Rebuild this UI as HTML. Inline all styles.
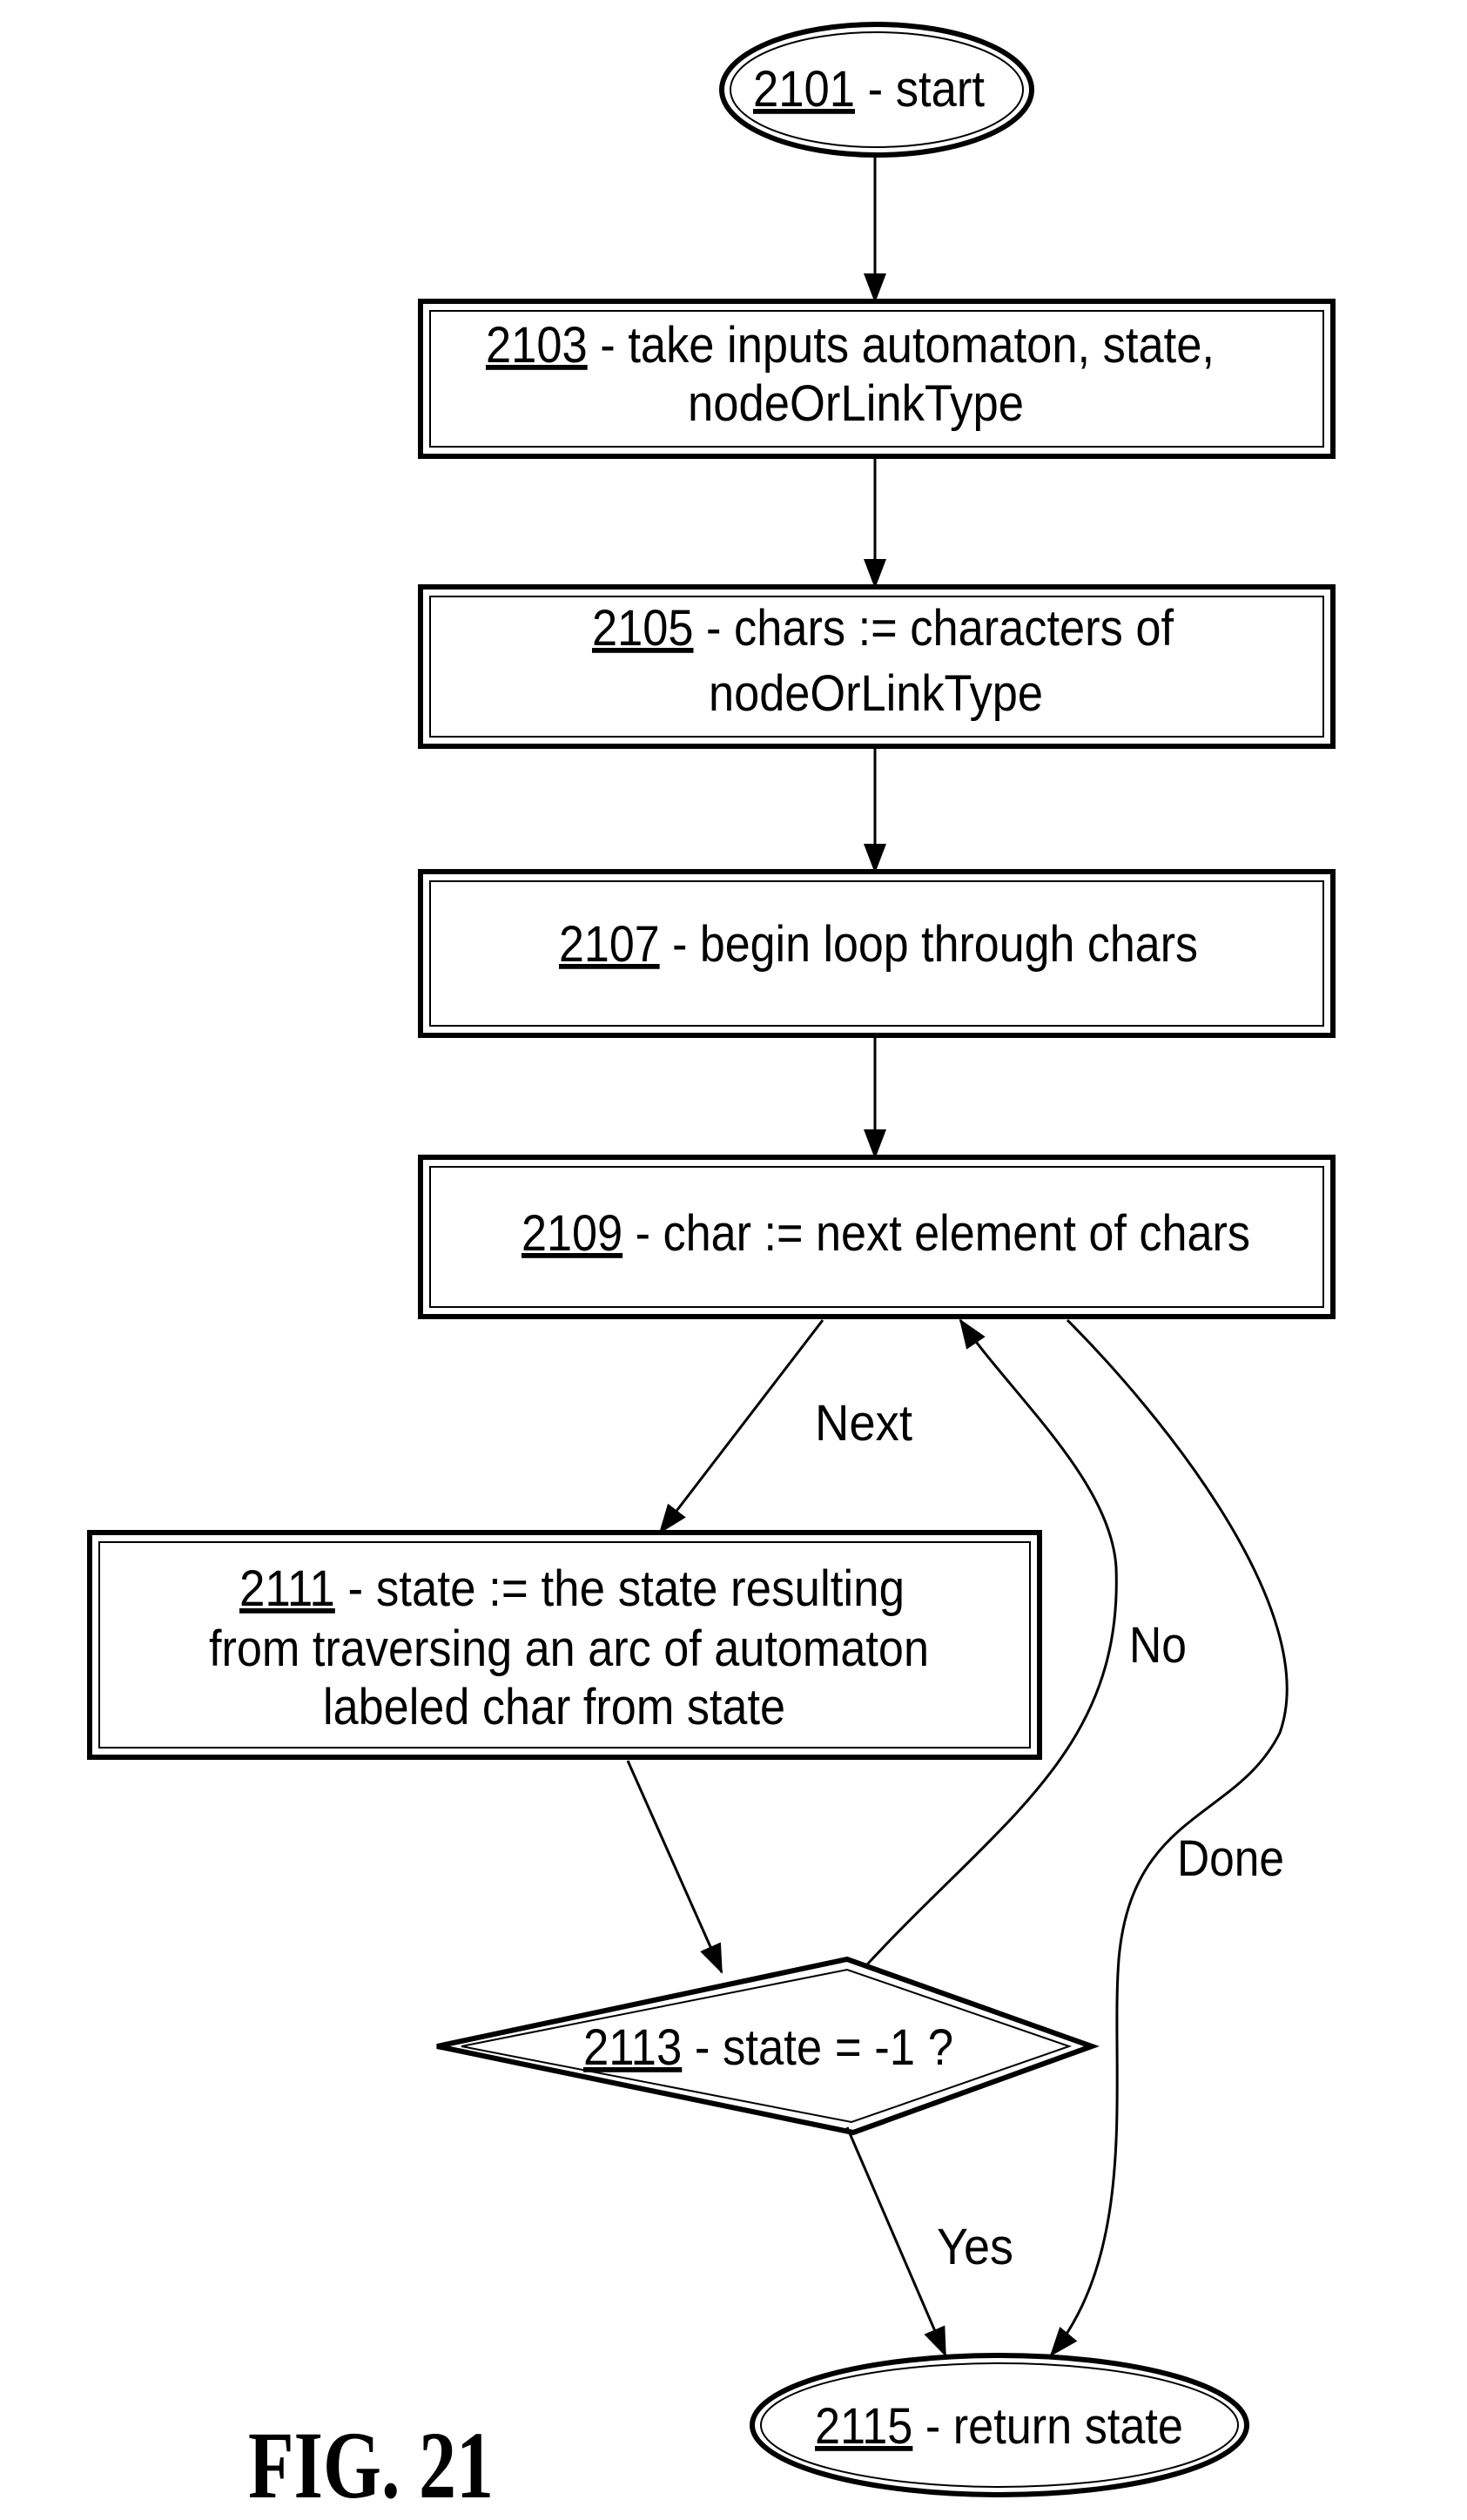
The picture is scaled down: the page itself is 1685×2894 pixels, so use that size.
<!DOCTYPE html>
<html><head><meta charset="utf-8"><style>
html,body{margin:0;padding:0;background:#fff}
svg{display:block}
text{font-family:"Liberation Sans",Arial,sans-serif;font-size:58px;fill:#000}
</style></head><body>
<svg width="1685" height="2894" viewBox="0 0 1685 2894" xmlns="http://www.w3.org/2000/svg">
<defs>
<marker id="ar2" markerWidth="34" markerHeight="34" refX="32" refY="17" orient="auto" markerUnits="userSpaceOnUse">
<path d="M0,4 L34,17 L0,30 z" fill="#000"/>
</marker>
</defs>
<g fill="none" stroke="#000">
<ellipse cx="1007" cy="103" rx="178" ry="75" stroke-width="6"/>
<ellipse cx="1007" cy="103" rx="168" ry="66" stroke-width="2"/>
<rect x="483" y="346" width="1048" height="178" stroke-width="6"/>
<rect x="494" y="357" width="1026" height="156" stroke-width="2"/>
<rect x="483" y="674" width="1048" height="183" stroke-width="6"/>
<rect x="494" y="685" width="1026" height="161" stroke-width="2"/>
<rect x="483" y="1001" width="1048" height="188" stroke-width="6"/>
<rect x="494" y="1012" width="1026" height="166" stroke-width="2"/>
<rect x="483" y="1329" width="1048" height="183" stroke-width="6"/>
<rect x="494" y="1340" width="1026" height="161" stroke-width="2"/>
<rect x="103" y="1760" width="1091" height="258" stroke-width="6"/>
<rect x="114" y="1771" width="1069" height="236" stroke-width="2"/>
<path d="M502,2350 L973,2250 L1254,2350 L980,2449 Z" stroke-width="6"/>
<path d="M530,2350 L973,2262 L1228,2350 L978,2437 Z" stroke-width="2"/>
<ellipse cx="1148" cy="2785" rx="284" ry="80" stroke-width="6"/>
<ellipse cx="1148" cy="2785" rx="274" ry="71" stroke-width="2"/>
<g stroke-width="3">
<line x1="1005" y1="178" x2="1005" y2="346" marker-end="url(#ar2)"/>
<line x1="1005" y1="524" x2="1005" y2="674" marker-end="url(#ar2)"/>
<line x1="1005" y1="857" x2="1005" y2="1001" marker-end="url(#ar2)"/>
<line x1="1005" y1="1189" x2="1005" y2="1329" marker-end="url(#ar2)"/>
<line x1="945" y1="1516" x2="758" y2="1760" marker-end="url(#ar2)"/>
<line x1="721" y1="2022" x2="829" y2="2265" marker-end="url(#ar2)"/>
<line x1="973" y1="2443" x2="1086" y2="2705" marker-end="url(#ar2)"/>
<path d="M996,2256 C1150,2090 1290,2010 1282,1800 C1276,1700 1160,1600 1103,1516" marker-end="url(#ar2)"/>
<path d="M1226,1516 C1330,1620 1520,1850 1470,1990 C1420,2090 1300,2080 1285,2250 C1275,2380 1310,2580 1207,2705" marker-end="url(#ar2)"/>
</g>
</g>
<text x="865" y="122" textLength="266" lengthAdjust="spacingAndGlyphs"><tspan text-decoration="underline">2101</tspan> - start</text>
<text x="558" y="416" textLength="837" lengthAdjust="spacingAndGlyphs"><tspan text-decoration="underline">2103</tspan> - take inputs automaton, state,</text>
<text x="790" y="483" textLength="386" lengthAdjust="spacingAndGlyphs">nodeOrLinkType</text>
<text x="680" y="741" textLength="668" lengthAdjust="spacingAndGlyphs"><tspan text-decoration="underline">2105</tspan> - chars := characters of</text>
<text x="814" y="816" textLength="384" lengthAdjust="spacingAndGlyphs">nodeOrLinkType</text>
<text x="642" y="1104" textLength="734" lengthAdjust="spacingAndGlyphs"><tspan text-decoration="underline">2107</tspan> - begin loop through chars</text>
<text x="599" y="1436" textLength="837" lengthAdjust="spacingAndGlyphs"><tspan text-decoration="underline">2109</tspan> - char := next element of chars</text>
<text x="275" y="1844" textLength="764" lengthAdjust="spacingAndGlyphs"><tspan text-decoration="underline">2111</tspan> - state := the state resulting</text>
<text x="240" y="1913" textLength="827" lengthAdjust="spacingAndGlyphs">from traversing an arc of automaton</text>
<text x="371" y="1980" textLength="531" lengthAdjust="spacingAndGlyphs">labeled char from state</text>
<text x="670" y="2371" textLength="425" lengthAdjust="spacingAndGlyphs"><tspan text-decoration="underline">2113</tspan> - state = -1 ?</text>
<text x="936" y="1654" textLength="112" lengthAdjust="spacingAndGlyphs">Next</text>
<text x="1297" y="1909" textLength="66" lengthAdjust="spacingAndGlyphs">No</text>
<text x="1352" y="2154" textLength="123" lengthAdjust="spacingAndGlyphs">Done</text>
<text x="1076" y="2600" textLength="88" lengthAdjust="spacingAndGlyphs">Yes</text>
<text x="936" y="2806" textLength="423" lengthAdjust="spacingAndGlyphs"><tspan text-decoration="underline">2115</tspan> - return state</text>
<text x="285" y="2868" textLength="282" lengthAdjust="spacingAndGlyphs" style="font-family:'Liberation Serif',serif;font-weight:bold;font-size:110px">FIG. 21</text>
</svg>
</body></html>
